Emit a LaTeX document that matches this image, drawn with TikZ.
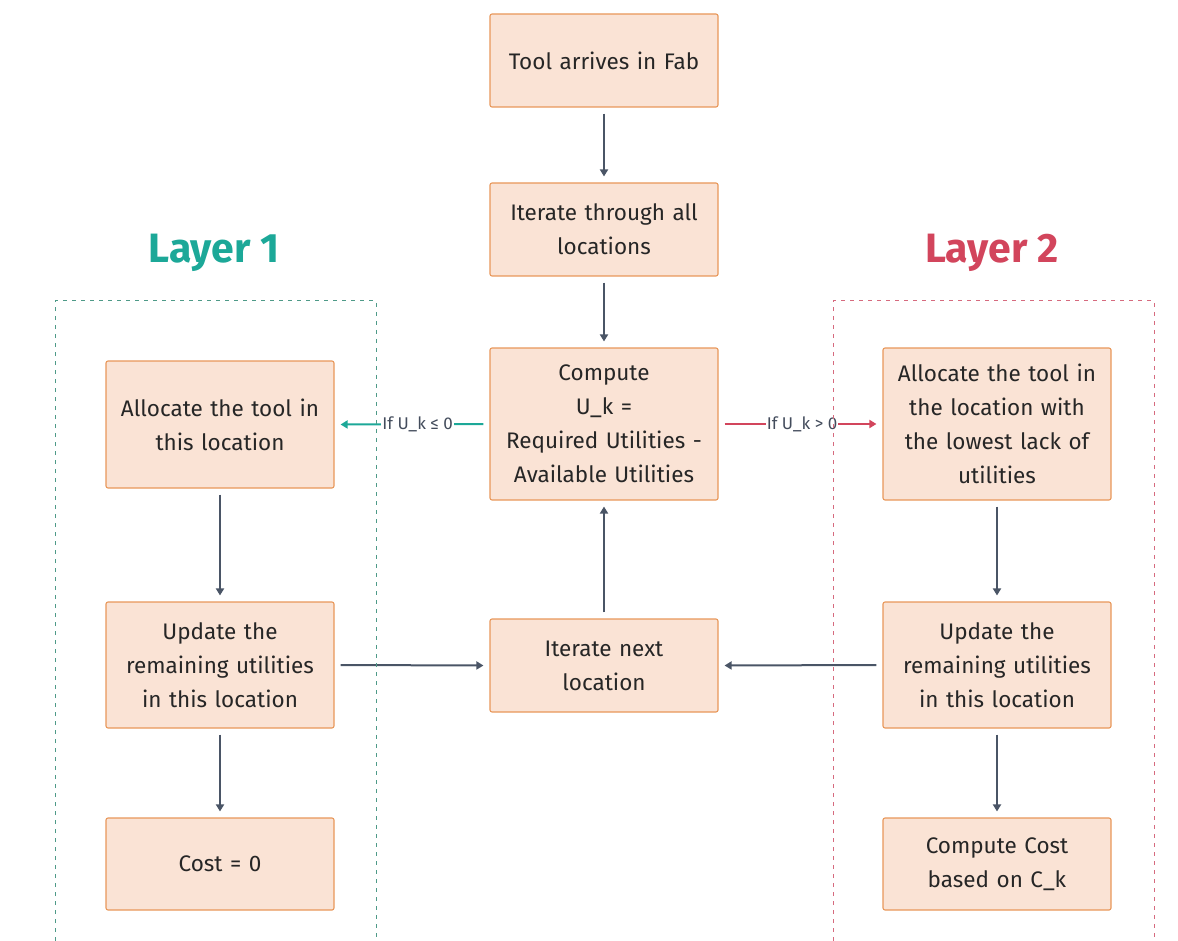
\documentclass[tikz,border=0pt]{standalone}
\usepackage{fontspec}
\setmainfont{Fira Sans}
\usetikzlibrary{arrows.meta}
\definecolor{boxfill}{HTML}{FAE3D5}
\definecolor{boxline}{HTML}{E8975A}
\definecolor{arr}{HTML}{4A5566}
\definecolor{teal1}{HTML}{1CA898}
\definecolor{red1}{HTML}{D2455C}
\definecolor{tealdash}{HTML}{4E9A88}
\definecolor{reddash}{HTML}{D66A7E}
\tikzset{
  flowbox/.style={draw=boxline, fill=boxfill, line width=1.1pt, rounded corners=2pt,
    minimum width=228pt, text width=224pt, align=center, inner sep=0pt,
    font=\fontsize{22.5}{34}\selectfont, text=black!85},
  flowarrow/.style={draw=arr, line width=2pt, -{Triangle[length=7pt,width=8pt]}},
  condlabel/.style={fill=white, inner sep=1pt, font=\fontsize{17}{18}\selectfont, text=arr!90!black},
  layertitle/.style={font=\fontsize{41}{46}\selectfont\bfseries},
}
\begin{document}
\begin{tikzpicture}[x=1pt,y=-1pt]
\useasboundingbox (0,0) rectangle (1178,941);
% center column
\node[flowbox, minimum height=93pt] (fab) at (604,60.5) {Tool arrives in Fab};
\node[flowbox, minimum height=93pt] (iter) at (604,229.5) {Iterate through all\\locations};
\node[flowbox, minimum height=152pt] (comp) at (604,424) {Compute\\U\_k =\\Required Utilities -\\Available Utilities};
\node[flowbox, minimum height=93pt] (next) at (604,665.5) {Iterate next\\location};
% layer 1
\node[flowbox, minimum height=127pt] (alloc1) at (220,424.5) {Allocate the tool in\\this location};
\node[flowbox, minimum height=126pt] (upd1) at (220,665) {Update the\\remaining utilities\\in this location};
\node[flowbox, minimum height=92pt] (cost1) at (220,864) {Cost = 0};
% layer 2
\node[flowbox, minimum height=152pt] (alloc2) at (997,424) {Allocate the tool in\\the location with\\the lowest lack of\\utilities};
\node[flowbox, minimum height=126pt] (upd2) at (997,665) {Update the\\remaining utilities\\in this location};
\node[flowbox, minimum height=92pt] (cost2) at (997,864) {Compute Cost\\based on C\_k};
% titles
\node[layertitle, text=teal1] (t1) at (214,253) {Layer 1};
\node[layertitle, text=red1] (t2) at (992,253) {Layer 2};
% arrows
\draw[flowarrow] ([yshift=-6pt]fab.south) -- ([yshift=6pt]iter.north);
\draw[flowarrow] ([yshift=-6pt]iter.south) -- ([yshift=6pt]comp.north);
\draw[flowarrow] ([yshift=6pt]next.north) -- ([yshift=-6pt]comp.south);
\draw[flowarrow] ([yshift=-6pt]alloc1.south) -- ([yshift=6pt]upd1.north);
\draw[flowarrow] ([yshift=-6pt]upd1.south) -- ([yshift=6pt]cost1.north);
\draw[flowarrow] ([yshift=-6pt]alloc2.south) -- ([yshift=6pt]upd2.north);
\draw[flowarrow] ([yshift=-6pt]upd2.south) -- ([yshift=6pt]cost2.north);
\draw[flowarrow] ([xshift=6pt]upd1.east) -- ([xshift=-6pt]next.west);
\draw[flowarrow] ([xshift=-6pt]upd2.west) -- ([xshift=6pt]next.east);
\draw[flowarrow, draw=teal1] ([xshift=-6pt]comp.west) -- node[condlabel, pos=0.46] (c1) {If U\_k ≤ 0} ([xshift=6pt]alloc1.east);
\draw[flowarrow, draw=red1] ([xshift=6pt]comp.east) -- node[condlabel, pos=0.51] (c2) {If U\_k > 0} ([xshift=-6pt]alloc2.west);
% layer frames (open at bottom)
\coordinate (f1a) at (55,941); \coordinate (f1b) at (55,301);
\coordinate (f1c) at (376,301); \coordinate (f1d) at (376,941);
\coordinate (f2a) at (833,941); \coordinate (f2b) at (833,301);
\coordinate (f2c) at (1154,301); \coordinate (f2d) at (1154,941);
\draw[tealdash, line width=1pt, dash pattern=on 4pt off 5pt] (f1a) -- (f1b) -- (f1c) -- (f1d);
\draw[reddash, line width=1pt, dash pattern=on 4pt off 5pt] (f2a) -- (f2b) -- (f2c) -- (f2d);
\end{tikzpicture}
\end{document}
